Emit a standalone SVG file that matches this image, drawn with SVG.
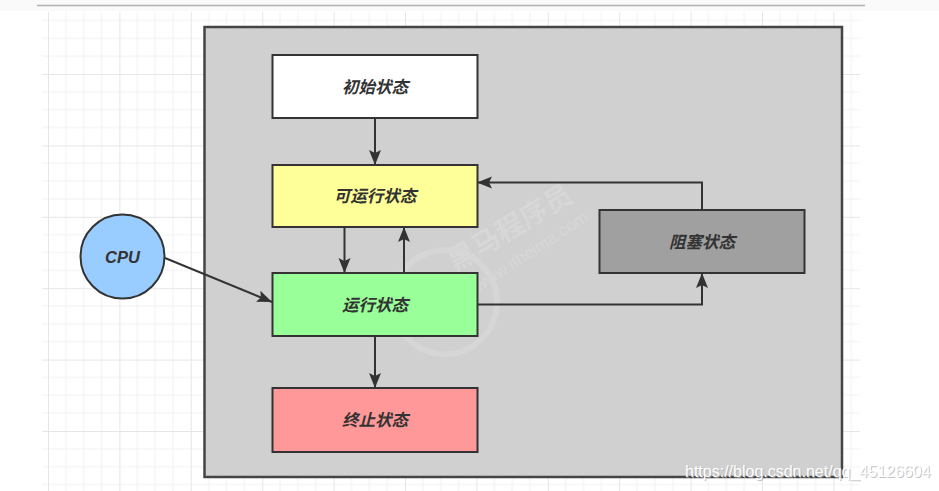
<svg xmlns="http://www.w3.org/2000/svg" width="939" height="491" viewBox="0 0 939 491">
  <defs>
    <pattern id="grid" patternUnits="userSpaceOnUse" x="48" y="2.6" width="71.4" height="71.4">
      <g stroke="#f1f1f1" stroke-width="1">
        <line x1="17.85" y1="0" x2="17.85" y2="71.4"/>
        <line x1="35.7" y1="0" x2="35.7" y2="71.4"/>
        <line x1="53.55" y1="0" x2="53.55" y2="71.4"/>
        <line x1="0" y1="17.85" x2="71.4" y2="17.85"/>
        <line x1="0" y1="35.7" x2="71.4" y2="35.7"/>
        <line x1="0" y1="53.55" x2="71.4" y2="53.55"/>
      </g>
      <g stroke="#e6e6e6" stroke-width="1">
        <line x1="0.5" y1="0" x2="0.5" y2="71.4"/>
        <line x1="0" y1="0.5" x2="71.4" y2="0.5"/>
      </g>
    </pattern>
    <marker id="arrow" markerUnits="userSpaceOnUse" markerWidth="17" markerHeight="13" refX="15" refY="6.5" orient="auto">
      <path d="M0,0.5 L15,6.5 L0,12.5 L3,6.5 Z" fill="#333333"/>
    </marker>
    <style>
      .node { stroke: #333333; stroke-width: 2; }
      .label { font-family: "Noto Sans CJK SC", "Liberation Sans", sans-serif; font-size: 16.5px; font-weight: bold; font-style: italic; fill: #333333; text-anchor: middle; }
      .edge { fill: none; stroke: #333333; stroke-width: 2; marker-end: url(#arrow); }
    </style>
  </defs>

  <!-- page background -->
  <rect x="0" y="0" width="939" height="491" fill="#ffffff"/>
  <rect x="0" y="0" width="939" height="11" fill="#fafafa"/>
  <line x1="37" y1="5.5" x2="865" y2="5.5" stroke="#b0b0b0" stroke-width="1.5"/>
  <rect x="42" y="12" width="818" height="479" fill="url(#grid)"/>

  <!-- container -->
  <g id="container">
    <rect x="204.5" y="27" width="637.5" height="450" fill="#d0d0d0" stroke="#444444" stroke-width="2.5"/>
  </g>

  <!-- watermark -->
  <g id="watermark" opacity="0.25">
    <circle cx="445" cy="302" r="52" fill="none" stroke="#e8e8e8" stroke-width="6"/>
    <text x="515" y="236" transform="rotate(-31 515 236)" font-family="Noto Sans CJK SC, sans-serif" font-size="28" font-weight="bold" fill="#ececec" text-anchor="middle">黑马程序员</text>
    <text x="534" y="256" transform="rotate(-33 534 256)" font-family="Liberation Sans, sans-serif" font-size="17" fill="#ececec" text-anchor="middle">www.itheima.com</text>
  </g>

  <!-- connectors -->
  <g id="connectors">
    <line class="edge" x1="375" y1="118" x2="375" y2="165"/>
    <line class="edge" x1="344.5" y1="227" x2="344.5" y2="273"/>
    <line class="edge" x1="404" y1="273" x2="404" y2="227"/>
    <line class="edge" x1="375" y1="336" x2="375" y2="388"/>
    <polyline class="edge" points="477,304.5 702,304.5 702,273"/>
    <polyline class="edge" points="702,210 702,182.5 477,182.5"/>
    <line class="edge" x1="165" y1="258" x2="272" y2="302"/>
  </g>

  <!-- nodes -->
  <g id="initial">
    <rect class="node" x="272.5" y="55" width="205" height="63" fill="#ffffff"/>
    <text class="label" x="375" y="92.5">初始状态</text>
  </g>
  <g id="runnable">
    <rect class="node" x="272.5" y="165" width="205" height="62" fill="#ffff99"/>
    <text class="label" x="375" y="202">可运行状态</text>
  </g>
  <g id="running">
    <rect class="node" x="272.5" y="273" width="205" height="63" fill="#99ff99"/>
    <text class="label" x="375" y="310.5">运行状态</text>
  </g>
  <g id="terminated">
    <rect class="node" x="272.5" y="388" width="205" height="64" fill="#ff9999"/>
    <text class="label" x="375" y="426">终止状态</text>
  </g>
  <g id="blocked">
    <rect class="node" x="599.5" y="210" width="205" height="63" fill="#a0a0a0"/>
    <text class="label" x="702" y="247.5">阻塞状态</text>
  </g>
  <g id="cpu">
    <circle class="node" cx="122.5" cy="256.5" r="42" fill="#99ccff"/>
    <text class="label" x="122.5" y="262.5" style="font-family: 'Liberation Sans', sans-serif;">CPU</text>
  </g>

  <!-- csdn watermark -->
  <g id="csdn-watermark" font-family="Liberation Sans, sans-serif" font-size="16">
    <text x="686" y="478" fill="#aaaaaa" opacity="0.7">https://blog.csdn.net/qq_45126604</text>
    <text x="685" y="477" fill="#ffffff">https://blog.csdn.net/qq_45126604</text>
  </g>
</svg>
